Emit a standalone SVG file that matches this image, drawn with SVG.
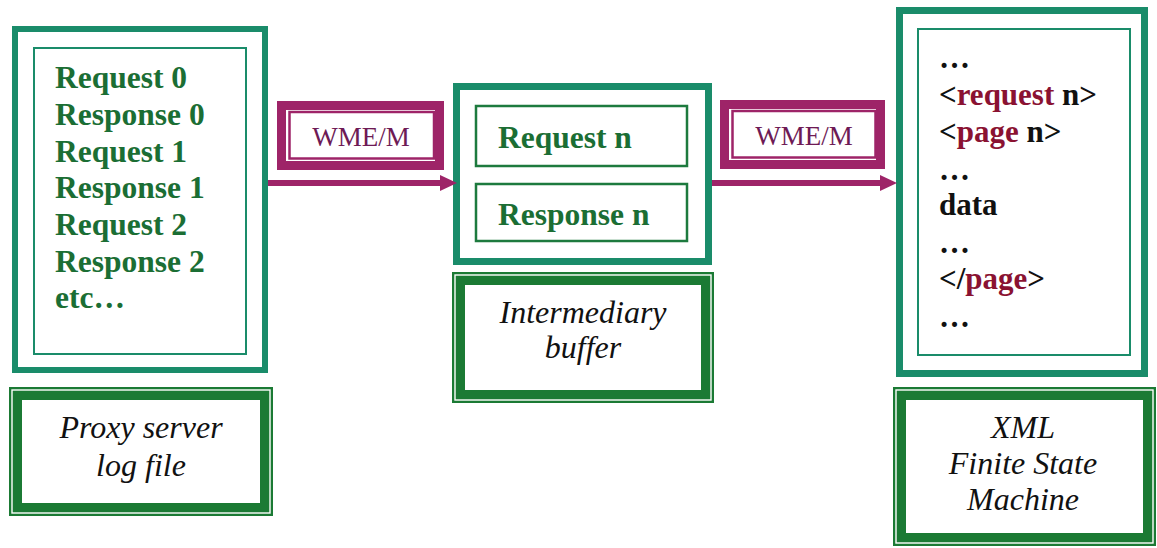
<svg xmlns="http://www.w3.org/2000/svg" width="1157" height="548" viewBox="0 0 1157 548">
  <defs>
    <style>
      .frame { fill: #ffffff; stroke: #1a8c6a; }
      .inner { fill: none; stroke: #1a8c6a; stroke-width: 2; }
      .slot { fill: none; stroke: #1d7a3e; stroke-width: 2.5; }
      .band { fill: #ffffff; stroke: #1b7a34; stroke-width: 13; }
      .gap { fill: none; stroke: #ffffff; stroke-width: 1.4; }
      .tagband { fill: #ffffff; stroke: #9e2468; stroke-width: 9; }
      .tagline { fill: none; stroke: #9e2468; stroke-width: 2.5; }
      .tagtext { font-family: "Liberation Serif", "Times New Roman", serif; font-size: 27px; fill: #6e1a55; text-anchor: middle; }
      .item { font-family: "Liberation Serif", "Times New Roman", serif; font-size: 31.5px; font-weight: bold; fill: #1b6e34; }
      .xml { font-family: "Liberation Serif", "Times New Roman", serif; font-size: 31px; font-weight: bold; fill: #111111; }
      .tag { fill: #8a1232; }
      .label { font-family: "Liberation Serif", "Times New Roman", serif; font-size: 32px; font-style: italic; fill: #111111; text-anchor: middle; }
      .link { stroke: #9e2468; stroke-width: 6; fill: none; }
      .head { fill: #9e2468; }
    </style>
  </defs>

  <!-- proxy log contents -->
  <g id="log">
    <rect class="frame" x="15" y="29" width="250" height="341" stroke-width="6"/>
    <rect class="inner" x="34" y="48" width="212" height="306"/>
    <text class="item" x="55" y="88">Request 0</text>
    <text class="item" x="55" y="125">Response 0</text>
    <text class="item" x="55" y="162">Request 1</text>
    <text class="item" x="55" y="198">Response 1</text>
    <text class="item" x="55" y="235">Request 2</text>
    <text class="item" x="55" y="272">Response 2</text>
    <text class="item" x="55" y="308">etc…</text>
  </g>

  <g id="log-label">
    <rect class="band" x="15.5" y="393.5" width="251" height="116"/>
    <rect class="gap" x="12" y="390" width="258" height="123"/>
    <text class="label" x="141" y="438">Proxy server</text>
    <text class="label" x="141" y="476">log file</text>
  </g>

  <!-- buffer contents -->
  <g id="buffer">
    <rect class="frame" x="456.5" y="86.5" width="252" height="175" stroke-width="7"/>
    <rect class="slot" x="476" y="106" width="211" height="60"/>
    <rect class="slot" x="476" y="184" width="211" height="57"/>
    <text class="item" x="498" y="148">Request n</text>
    <text class="item" x="498" y="225">Response n</text>
  </g>

  <g id="buffer-label">
    <rect class="band" x="458.5" y="278.5" width="249" height="118"/>
    <rect class="gap" x="455" y="275" width="256" height="125"/>
    <text class="label" x="583" y="323">Intermediary</text>
    <text class="label" x="583" y="358">buffer</text>
  </g>

  <!-- XML stream -->
  <g id="fsm">
    <rect class="frame" x="899.5" y="10.5" width="245" height="363" stroke-width="7"/>
    <rect class="inner" x="918" y="29" width="212" height="326"/>
    <text class="xml" x="939" y="68">…</text>
    <text class="xml" x="939" y="105">&lt;<tspan class="tag">request</tspan> n&gt;</text>
    <text class="xml" x="939" y="142">&lt;<tspan class="tag">page</tspan> n&gt;</text>
    <text class="xml" x="939" y="180">…</text>
    <text class="xml" x="939" y="215">data</text>
    <text class="xml" x="939" y="253">…</text>
    <text class="xml" x="939" y="289">&lt;/<tspan class="tag">page</tspan>&gt;</text>
    <text class="xml" x="939" y="327">…</text>
  </g>

  <g id="fsm-label">
    <rect class="band" x="899.5" y="393.5" width="250" height="146"/>
    <rect class="gap" x="896" y="390" width="257" height="153"/>
    <text class="label" x="1023" y="438">XML</text>
    <text class="label" x="1023" y="474">Finite State</text>
    <text class="label" x="1023" y="510">Machine</text>
  </g>

  <!-- transfer tags -->
  <g id="wme1">
    <rect class="tagband" x="281.5" y="105.5" width="158" height="60"/>
    <rect class="tagline" x="289.5" y="112" width="144.5" height="46.5"/>
    <text class="tagtext" x="361" y="145.5">WME/M</text>
  </g>

  <g id="wme2">
    <rect class="tagband" x="724.5" y="104.5" width="156" height="60"/>
    <rect class="tagline" x="732.5" y="111" width="143" height="46.5"/>
    <text class="tagtext" x="804" y="144.5">WME/M</text>
  </g>

  <!-- connectors -->
  <g id="connectors">
    <line class="link" x1="268" y1="183" x2="442" y2="183"/>
    <polygon class="head" points="440,175 457,183 440,191"/>
    <line class="link" x1="712" y1="183" x2="882" y2="183"/>
    <polygon class="head" points="880,175 897,183 880,191"/>
  </g>
</svg>
